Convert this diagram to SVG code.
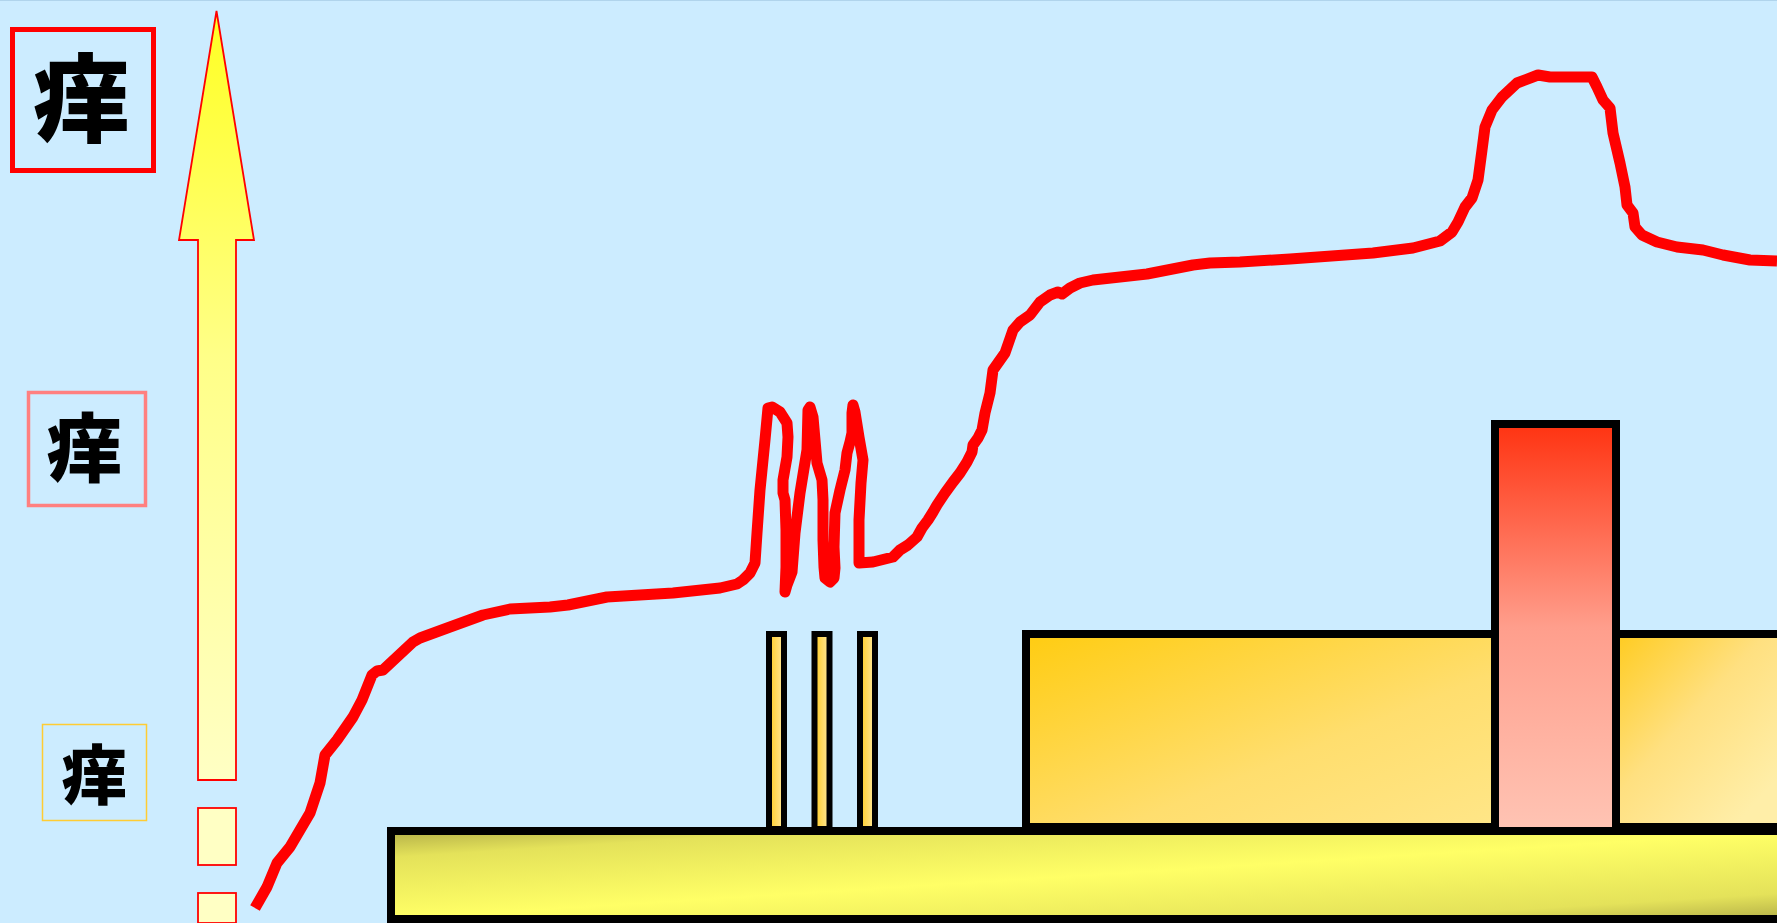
<svg xmlns="http://www.w3.org/2000/svg" width="1777" height="923" viewBox="0 0 1777 923">
<defs>
<linearGradient id="arrowG" x1="0" y1="0" x2="0" y2="1">
<stop offset="0" stop-color="#FFFF22"/>
<stop offset="0.45" stop-color="#FFFF88"/>
<stop offset="1" stop-color="#FFFFC4"/>
</linearGradient>
<linearGradient id="barG" x1="0" y1="0" x2="1" y2="1">
<stop offset="0" stop-color="#B4B048"/>
<stop offset="0.15" stop-color="#E4E25A"/>
<stop offset="0.5" stop-color="#FFFF66"/>
<stop offset="0.85" stop-color="#E4E25A"/>
<stop offset="1" stop-color="#B4B048"/>
</linearGradient>
<linearGradient id="postG" x1="0" y1="0" x2="1" y2="0">
<stop offset="0" stop-color="#FFCC22"/>
<stop offset="1" stop-color="#FFE8A0"/>
</linearGradient>
<linearGradient id="boxG" x1="0" y1="0" x2="1" y2="1">
<stop offset="0" stop-color="#FFCC11"/>
<stop offset="0.6" stop-color="#FFDE6E"/>
<stop offset="1" stop-color="#FFE688"/>
</linearGradient>
<linearGradient id="boxG2" gradientUnits="userSpaceOnUse" x1="1620" y1="634" x2="1777" y2="780">
<stop offset="0" stop-color="#FFCC22"/>
<stop offset="0.5" stop-color="#FFE080"/>
<stop offset="1" stop-color="#FFEEA8"/>
</linearGradient>
<linearGradient id="redG" x1="0" y1="0" x2="0" y2="1">
<stop offset="0" stop-color="#FF3311"/>
<stop offset="0.5" stop-color="#FF9E8C"/>
<stop offset="1" stop-color="#FFC4B4"/>
</linearGradient>
</defs>
<style>
.lbl{font-family:"Noto Sans CJK JP","Noto Sans CJK SC",sans-serif;font-weight:900;fill:#000;text-anchor:middle}
.blk{stroke:#000;stroke-width:8}
</style>
<rect x="0" y="0" width="1777" height="923" fill="#CCECFF"/>
<line x1="0" y1="0.5" x2="1777" y2="0.5" stroke="#B0D4EC" stroke-width="1"/>

<g id="scale-high">
<rect x="12.5" y="29.5" width="141" height="141" fill="none" stroke="#FF0000" stroke-width="5"/>
<text class="lbl" x="81" y="134" font-size="96">痒</text>
</g>
<g id="scale-mid">
<rect x="28.5" y="392.5" width="117" height="113" fill="none" stroke="#FF8080" stroke-width="3.5"/>
<text class="lbl" x="84" y="476" font-size="75">痒</text>
</g>
<g id="scale-low">
<rect x="42.5" y="724.5" width="104" height="96" fill="none" stroke="#FFCC33" stroke-width="1.5"/>
<text class="lbl" x="94" y="799" font-size="65">痒</text>
</g>

<g id="intensity-arrow">
<polygon points="216.5,11 254,240 236,240 236,780 198,780 198,240 179,240" fill="url(#arrowG)" stroke="#FF0000" stroke-width="1.8"/>
<rect x="198" y="808" width="38" height="57" fill="#FFFFC4" stroke="#FF0000" stroke-width="1.8"/>
<rect x="198" y="893" width="38" height="30" fill="#FFFFC4" stroke="#FF0000" stroke-width="1.8"/>
</g>

<g id="base-bar">
<rect x="391" y="831" width="1400" height="88" fill="url(#barG)" class="blk"/>
</g>
<g id="posts">
<rect x="769" y="634" width="15" height="195" fill="url(#postG)" stroke="#000" stroke-width="6"/>
<rect x="814.5" y="634" width="15" height="195" fill="url(#postG)" stroke="#000" stroke-width="6"/>
<rect x="860" y="634" width="15" height="195" fill="url(#postG)" stroke="#000" stroke-width="6"/>
</g>
<g id="box-left">
<rect x="1026" y="634" width="470" height="193" fill="url(#boxG)" class="blk"/>
</g>
<g id="box-right">
<rect x="1616" y="634" width="180" height="193" fill="url(#boxG2)" class="blk"/>
</g>
<g id="red-column">
<rect x="1495" y="424" width="121" height="407" fill="url(#redG)" class="blk"/>
</g>

<g id="connectors">
<path fill="none" stroke="#FF0000" stroke-width="11" stroke-linejoin="round" d="M255,908 L267,887 L277,863 L290,847 L310,813 L320,783 L325,755 L337,740 L353,717 L362,700 L372,675 L377,671 L383,670 L413,642 L420,638 L450,627 L483,615 L510,609 L550,607 L568,605 L607,597 L673,593 L720,588 L737,584 L743,580 L750,573 L755,563 L757,533 L760,490 L765,440 L768,408 L772,407 L780,412 L787,423 L788,437 L787,457 L783,480 L783,493 L785,500 L786,530 L786,567 L785,592 L787,585 L792,572 L795,533 L800,493 L807,450 L808,410 L810,407 L813,417 L817,463 L822,480 L823,500 L823,540 L824,567 L825,578 L830,582 L834,578 L835,568 L834,547 L835,513 L840,490 L845,470 L847,453 L850,442 L852,433 L852,413 L853,405 L855,412 L859,437 L863,460 L861,483 L859,520 L859,547 L859,563 L873,562 L893,557 L900,550 L908,545 L917,537 L922,528 L928,520 L933,512 L937,505 L945,493 L953,482 L960,473 L967,462 L972,452 L973,445 L978,438 L982,430 L985,413 L990,393 L993,370 L1005,353 L1013,330 L1020,322 L1030,315 L1040,302 L1050,295 L1058,292 L1062,294 L1070,288 L1080,283 L1093,280 L1147,274 L1193,265 L1210,263 L1240,262 L1290,259 L1373,253 L1413,248 L1440,241 L1452,232 L1458,222 L1465,207 L1472,198 L1478,180 L1482,150 L1485,127 L1492,110 L1502,97 L1517,83 L1538,75 L1550,77 L1592,77 L1597,87 L1603,100 L1610,108 L1613,133 L1620,163 L1625,187 L1627,205 L1633,213 L1635,227 L1642,235 L1657,242 L1677,247 L1703,250 L1723,255 L1750,260 L1777,261"/>
</g>
</svg>
